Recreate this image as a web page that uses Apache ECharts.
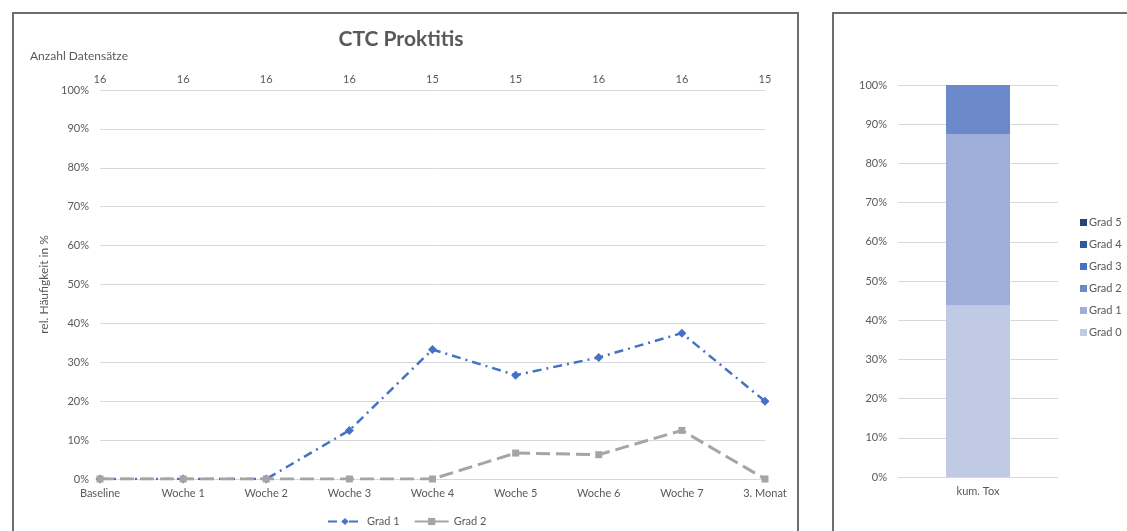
<!DOCTYPE html>
<html>
<head>
<meta charset="utf-8">
<script src="https://cdn.jsdelivr.net/npm/echarts@6/dist/echarts.min.js"></script>
<style>
  html, body { margin: 0; padding: 0; background: #fff; }
  #wrap { position: relative; width: 1127px; height: 531px; overflow: hidden; }
  #lineChart { position: absolute; left: 0; top: 0; width: 810px; height: 531px; }
  #barChart { position: absolute; left: 820px; top: 0; width: 307px; height: 531px; }
  .box { position: absolute; border: 2px solid #6e6e6e; pointer-events: none; }
</style>
</head>
<body>
<div id="wrap">
  <div id="lineChart"></div>
  <div id="barChart"></div>
  <div class="box" style="left:12px; top:12px; width:783px; height:540px;"></div>
  <div class="box" style="left:832px; top:12px; width:320px; height:540px;"></div>
</div>
<script>
// Zeitpunkte und Anzahl Datensätze
const timepoints = ['Baseline', 'Woche 1', 'Woche 2', 'Woche 3', 'Woche 4', 'Woche 5', 'Woche 6', 'Woche 7', '3. Monat'];
const recordCounts = ['16', '16', '16', '16', '15', '15', '16', '16', '15'];

// rel. Häufigkeit in %
const grad1 = [0, 0, 0, 12.5, 33.3, 26.7, 31.25, 37.5, 20];
const grad2 = [0, 0, 0, 0, 0, 6.67, 6.25, 12.5, 0];

// kumulative Toxizität
const kumCategory = ['kum. Tox'];
const kumGrades = ['Grad 0', 'Grad 1', 'Grad 2', 'Grad 3', 'Grad 4', 'Grad 5'];
const kumValues = [43.75, 43.75, 12.5, 0, 0, 0];
const kumColors = ['#c0cae5', '#9eaed8', '#6b88ca', '#4472c4', '#30599f', '#264478'];

const font = 'Lato, "Open Sans", sans-serif';
const textColor = '#595959';
const gridColor = '#d9d9d9';
const fs = 11;

const pctLabel = { color: textColor, fontSize: fs, fontFamily: font, margin: 11, formatter: '{value}%' };

// Verlauf über die Zeit
const lineChart = echarts.init(document.getElementById('lineChart'));
lineChart.setOption({
  animation: false,
  textStyle: { fontFamily: font },
  title: {
    text: 'CTC Proktitis',
    left: 396,
    top: 24,
    textAlign: 'center',
    textStyle: { color: textColor, fontSize: 21, fontWeight: 'bold', fontFamily: font },
  },
  graphic: [
    {
      type: 'text',
      left: 30,
      top: 50,
      style: { text: 'Anzahl Datensätze', fill: textColor, fontSize: 12, fontFamily: font },
    },
  ],
  legend: {
    data: ['Grad 1', 'Grad 2'],
    left: 322,
    top: 511,
    itemWidth: 34,
    itemHeight: 9,
    itemGap: 14,
    textStyle: { color: textColor, fontSize: fs, fontFamily: font },
  },
  grid: { left: 100, top: 90, width: 665, height: 389 },
  xAxis: [
    {
      type: 'category',
      data: timepoints,
      boundaryGap: false,
      axisLine: { lineStyle: { color: gridColor } },
      axisTick: { show: false },
      axisLabel: { color: textColor, fontSize: fs, fontFamily: font, margin: 9 },
    },
    {
      type: 'category',
      position: 'top',
      data: recordCounts,
      boundaryGap: false,
      axisLine: { show: false },
      axisTick: { show: false },
      axisLabel: { color: textColor, fontSize: fs, fontFamily: font, margin: 5 },
    },
  ],
  yAxis: {
    type: 'value',
    min: 0,
    max: 100,
    interval: 10,
    name: 'rel. Häufigkeit in %',
    nameLocation: 'middle',
    nameGap: 43,
    nameTextStyle: { color: textColor, fontSize: 12, fontFamily: font },
    axisLine: { show: false },
    axisTick: { show: false },
    axisLabel: pctLabel,
    splitLine: { lineStyle: { color: gridColor } },
  },
  series: [
    {
      name: 'Grad 1',
      type: 'line',
      data: grad1,
      symbol: 'diamond',
      symbolSize: 9,
      color: '#4472c4',
      lineStyle: { width: 2.5, type: [9, 5, 2, 5] },
      z: 3,
    },
    {
      name: 'Grad 2',
      type: 'line',
      data: grad2,
      symbol: 'rect',
      symbolSize: 7,
      color: '#a5a5a5',
      lineStyle: { width: 3, type: [14, 6] },
      z: 4,
    },
  ],
});

// kumulative Toxizität als gestapelte Säule
const barChart = echarts.init(document.getElementById('barChart'));
barChart.setOption({
  animation: false,
  textStyle: { fontFamily: font },
  legend: {
    data: kumGrades.slice().reverse(),
    orient: 'vertical',
    left: 255,
    top: 212,
    itemWidth: 7,
    itemHeight: 7,
    itemGap: 11,
    icon: 'rect',
    textStyle: { color: textColor, fontSize: fs, fontFamily: font, padding: [0, 0, 0, -3] },
  },
  grid: { left: 78, top: 85, width: 160, height: 392 },
  xAxis: {
    type: 'category',
    data: kumCategory,
    axisLine: { lineStyle: { color: gridColor } },
    axisTick: { show: false },
    axisLabel: { color: textColor, fontSize: fs, fontFamily: font, margin: 9 },
  },
  yAxis: {
    type: 'value',
    min: 0,
    max: 100,
    interval: 10,
    axisLine: { show: false },
    axisTick: { show: false },
    axisLabel: pctLabel,
    splitLine: { lineStyle: { color: gridColor } },
  },
  series: kumGrades.map((g, i) => ({
    name: g,
    type: 'bar',
    stack: 'kum',
    barWidth: 64,
    color: kumColors[i],
    data: [kumValues[i]],
  })),
});
</script>
</body>
</html>
